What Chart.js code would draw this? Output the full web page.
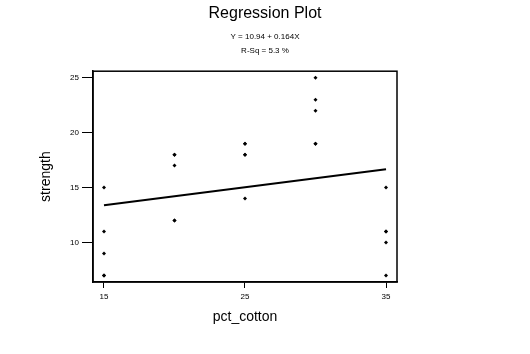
<!DOCTYPE html>
<html>
<head>
<meta charset="utf-8">
<script src="https://cdn.jsdelivr.net/npm/chart.js@4/dist/chart.umd.min.js"></script>
<style>
  html, body { margin: 0; padding: 0; background: #fff; }
  canvas { display: block; }
</style>
</head>
<body>
<canvas id="regplot" width="530" height="354"></canvas>
<script>
// observations (pct_cotton vs strength)
var pctCotton = [15, 15, 15, 15, 15, 20, 20, 20, 20, 20, 25, 25, 25, 25, 25, 30, 30, 30, 30, 30, 35, 35, 35, 35, 35];
var strength  = [7, 7, 15, 11, 9, 12, 17, 12, 18, 18, 14, 18, 18, 19, 19, 19, 25, 22, 19, 23, 7, 10, 11, 15, 11];

// fitted line end points
var fitX = [15, 35];
var fitY = [13.40, 16.68];

var xTicks = [15, 25, 35];
var yTicks = [10, 15, 20, 25];

var titleText = 'Regression Plot';
var subtitleLines = ['Y = 10.94 + 0.164X', 'R-Sq = 5.3 %'];

var font = "'Liberation Sans', Arial, sans-serif";

var points = pctCotton.map(function (x, i) { return { x: x, y: strength[i] }; });
var fit = fitX.map(function (x, i) { return { x: x, y: fitY[i] }; });

var ctx = document.getElementById('regplot').getContext('2d');
var chart = new Chart(ctx, {
    type: 'scatter',
    data: {
        datasets: [{
            data: points,
            pointStyle: 'rectRot',
            pointRadius: 2,
            pointBackgroundColor: '#000',
            pointBorderColor: '#000',
            pointBorderWidth: 0
        }, {
            type: 'line',
            data: fit,
            borderColor: '#000',
            borderWidth: 2,
            pointRadius: 0,
            fill: false
        }]
    },
    options: {
        responsive: false,
        animation: false,
        layout: { padding: 0 },
        plugins: {
            legend: { display: false },
            tooltip: { enabled: false },
            title: {
                display: true,
                text: titleText,
                color: '#000',
                font: { family: font, size: 16, weight: 'normal', lineHeight: 1.2 },
                padding: { top: 4, bottom: 6 }
            },
            subtitle: {
                display: true,
                text: subtitleLines,
                color: '#000',
                font: { family: font, size: 8, weight: 'normal', lineHeight: 1.75 },
                padding: { top: 1, bottom: 13 }
            }
        },
        scales: {
            x: {
                type: 'linear',
                min: 14.22,
                max: 35.78,
                afterBuildTicks: function (scale) {
                    scale.ticks = xTicks.map(function (v) { return { value: v }; });
                },
                afterFit: function (scale) { scale.height = 72; },
                border: { display: true, color: '#000', width: 1.5 },
                grid: { drawOnChartArea: false, color: '#000', tickLength: 6, lineWidth: 1 },
                ticks: { color: '#000', font: { family: font, size: 8 }, padding: 4, maxRotation: 0 },
                title: {
                    display: true,
                    text: 'pct_cotton',
                    color: '#000',
                    font: { family: font, size: 14 },
                    padding: { top: 0, bottom: 28 }
                }
            },
            y: {
                type: 'linear',
                min: 6.4,
                max: 25.6,
                afterBuildTicks: function (scale) {
                    scale.ticks = yTicks.map(function (v) { return { value: v }; });
                },
                afterFit: function (scale) { scale.width = 93; },
                border: { display: true, color: '#000', width: 1.5 },
                grid: { drawOnChartArea: false, color: '#000', tickLength: 11, lineWidth: 1 },
                ticks: { color: '#000', font: { family: font, size: 8 }, padding: 3 },
                title: {
                    display: true,
                    text: 'strength',
                    color: '#000',
                    font: { family: font, size: 14 },
                    padding: { top: 38, bottom: 0 }
                }
            },
            // empty right-hand strip so the title stays centred on the page
            spacer: {
                type: 'linear',
                position: 'right',
                afterFit: function (scale) { scale.width = 133; },
                border: { display: false },
                grid: { display: false },
                ticks: { display: false }
            }
        }
    },
    plugins: [{
        id: 'frame',
        beforeDraw: function (c) {
            var g = c.ctx;
            g.save();
            g.fillStyle = '#fff';
            g.fillRect(0, 0, c.width, c.height);
            g.restore();
        },
        afterDatasetsDraw: function (c) {
            var a = c.chartArea;
            var g = c.ctx;
            g.save();
            g.strokeStyle = '#000';
            g.lineWidth = 1.5;
            g.strokeRect(a.left, a.top, a.right - a.left, a.bottom - a.top);
            g.restore();
        }
    }]
});
</script>
</body>
</html>
